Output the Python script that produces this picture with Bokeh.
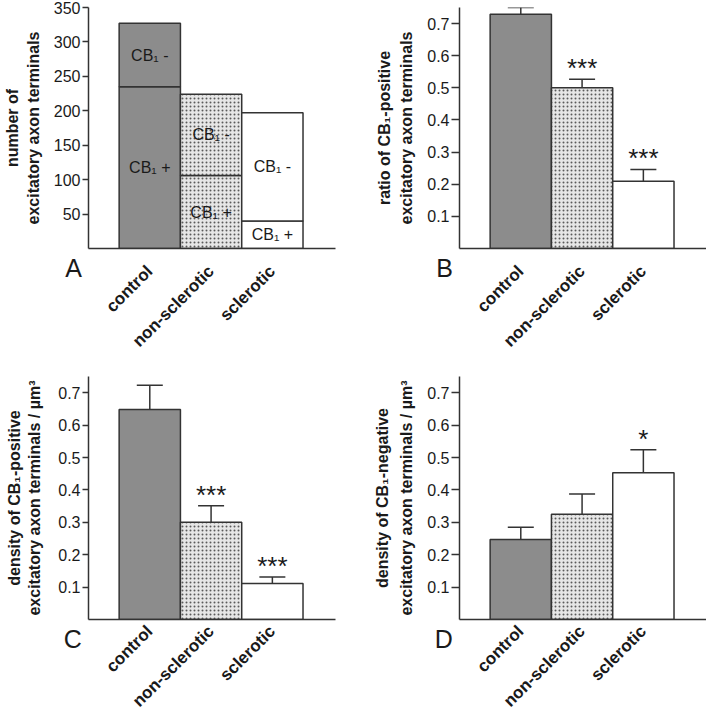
import math
from bokeh.plotting import figure
from bokeh.models import (ColumnDataSource, Range1d, FixedTicker, LinearAxis,
                          Whisker, TeeHead)
from bokeh.layouts import gridplot
from bokeh.core.properties import value
from bokeh.embed import file_html
from bokeh.resources import INLINE

# ---------------- data ----------------
categories = ["control", "non-sclerotic", "sclerotic"]

# Panel A: number of excitatory axon terminals (stacked)
a_cb1_positive = [235, 106, 40]
a_cb1_negative = [92, 118, 157]
a_ticks = [50, 100, 150, 200, 250, 300, 350]

# Panel B: ratio of CB1-positive excitatory axon terminals
b_mean = [0.729, 0.500, 0.209]
b_sem = [0.021, 0.027, 0.037]
b_sig = ["", "***", "***"]

# Panel C: density of CB1-positive excitatory axon terminals / um3
c_mean = [0.648, 0.300, 0.111]
c_sem = [0.075, 0.051, 0.020]
c_sig = ["", "***", "***"]

# Panel D: density of CB1-negative excitatory axon terminals / um3
d_mean = [0.247, 0.325, 0.453]
d_sem = [0.038, 0.062, 0.071]
d_sig = ["", "", "*"]

ratio_ticks = [0.1, 0.2, 0.3, 0.4, 0.5, 0.6, 0.7]
panel_letters = ["A", "B", "C", "D"]

# ---------------- style ----------------
bar_colors = ["#8c8c8c", "#e6e6e6", "#ffffff"]
bar_hatch = [" ", "dot", " "]
FONT = "Liberation Sans"
INK = "#333333"
TXT = "#1a1a1a"
xs = [i + 1 for i in range(len(categories))]


def make_panel(width, height, left, right, top, bottom, x_end, y_end, y_ticks,
               tick_out, title1, title2, std_inner, std_outer,
               letter, letter_standoff, cat_standoff):
    p = figure(width=width, height=height,
               x_range=Range1d(0, x_end), y_range=Range1d(0, y_end),
               output_backend="svg", toolbar_location=None,
               min_border_left=left, min_border_right=right,
               min_border_top=top, min_border_bottom=bottom)
    p.xgrid.visible = False
    p.ygrid.visible = False
    p.outline_line_color = None
    p.background_fill_color = "white"
    p.border_fill_color = "white"

    ya = p.yaxis[0]
    ya.ticker = FixedTicker(ticks=y_ticks)
    ya.minor_tick_line_color = None
    ya.major_tick_out = tick_out
    ya.major_tick_in = 0
    ya.major_label_standoff = 2
    ya.major_label_text_font = FONT
    ya.major_label_text_font_size = "16px"
    ya.major_label_text_color = TXT
    ya.axis_line_color = INK
    ya.axis_line_width = 1.5
    ya.major_tick_line_color = INK
    ya.major_tick_line_width = 1.5
    ya.axis_label = title2
    ya.axis_label_text_font = FONT
    ya.axis_label_text_font_style = "bold"
    ya.axis_label_text_font_size = "16px"
    ya.axis_label_text_color = TXT
    ya.axis_label_standoff = std_inner

    outer = LinearAxis(ticker=FixedTicker(ticks=[]), axis_label=title1,
                       axis_line_color=None, major_tick_line_color=None,
                       minor_tick_line_color=None, major_tick_out=0,
                       major_tick_in=0, major_label_standoff=0,
                       axis_label_standoff=std_outer,
                       axis_label_text_font=FONT,
                       axis_label_text_font_style="bold",
                       axis_label_text_font_size="16px",
                       axis_label_text_color=TXT)
    p.add_layout(outer, "left")

    # category axis (labels only; the axis line is drawn by the letter axis)
    xa = p.xaxis[0]
    xa.ticker = FixedTicker(ticks=xs)
    xa.major_label_overrides = {x: c for x, c in zip(xs, categories)}
    xa.major_label_orientation = math.pi / 4
    xa.major_tick_out = 0
    xa.major_tick_in = 0
    xa.minor_tick_line_color = None
    xa.major_label_standoff = cat_standoff
    xa.major_label_text_font = FONT
    xa.major_label_text_font_style = "bold"
    xa.major_label_text_font_size = "17px"
    xa.major_label_text_color = TXT
    xa.axis_line_color = None

    # panel letter axis: sits right under the frame and carries the axis line
    p.extra_x_ranges = {"letter": Range1d(0, 1000)}
    la = LinearAxis(x_range_name="letter", ticker=FixedTicker(ticks=[1]),
                    major_label_overrides={1: letter + " "},
                    major_label_orientation=1e-4,
                    major_tick_out=0, major_tick_in=0,
                    major_tick_line_color=None, minor_tick_line_color=None,
                    major_label_standoff=letter_standoff,
                    major_label_text_font=FONT,
                    major_label_text_font_size="25px",
                    major_label_text_color=TXT,
                    axis_line_color=INK, axis_line_width=1.5)
    p.below = [la] + list(p.below)
    return p


def add_bars(p, mean, sem, sig):
    src = ColumnDataSource(dict(
        x=xs, top=mean, upper=[m + s for m, s in zip(mean, sem)],
        color=bar_colors, hatch=bar_hatch, sig=sig))
    p.vbar(x="x", top="top", bottom=0, width=1.0, source=src,
           fill_color="color", hatch_pattern="hatch", hatch_color="#5a5a5a",
           hatch_scale=4, hatch_weight=1.0,
           line_color=INK, line_width=1.5)
    w = Whisker(source=src, base="x", upper="upper", lower="top",
                line_color=INK, line_width=1.5, lower_head=None,
                upper_head=TeeHead(size=26, line_color=INK, line_width=1.5))
    p.add_layout(w)
    p.text(x="x", y="upper", text="sig", source=src, text_align="center",
           text_baseline="alphabetic", text_font=value(FONT),
           text_font_size="26px", text_color=TXT, y_offset=-11)


# ---------------- Panel A ----------------
pA = make_panel(353, 360, 88, 18, 7, 110, 4.03, 350, a_ticks, 6,
                "number of", "excitatory axon terminals", 9, 1,
                panel_letters[0], 19, -30)
a_total = [pos + neg for pos, neg in zip(a_cb1_positive, a_cb1_negative)]
srcA = ColumnDataSource(dict(
    x=xs, pos=a_cb1_positive, total=a_total, color=bar_colors, hatch=bar_hatch,
    mid_pos=[v / 2 for v in a_cb1_positive],
    mid_neg=[(p_ + t) / 2 for p_, t in zip(a_cb1_positive, a_total)],
    lab_pos=["CB\u2081 +"] * 3, lab_neg=["CB\u2081 -"] * 3))
pA.vbar(x="x", bottom=0, top="pos", width=1.0, source=srcA,
        fill_color="color", hatch_pattern="hatch", hatch_color="#5a5a5a",
        hatch_scale=4, hatch_weight=1.0, line_color=INK, line_width=1.5)
pA.vbar(x="x", bottom="pos", top="total", width=1.0, source=srcA,
        fill_color="color", hatch_pattern="hatch", hatch_color="#5a5a5a",
        hatch_scale=4, hatch_weight=1.0, line_color=INK, line_width=1.5)
pA.text(x="x", y="mid_pos", text="lab_pos", source=srcA, text_align="center",
        text_baseline="middle", text_font=value(FONT), text_font_size="16px",
        text_color=TXT)
pA.text(x="x", y="mid_neg", text="lab_neg", source=srcA, text_align="center",
        text_baseline="middle", text_font=value(FONT), text_font_size="16px",
        text_color=TXT)

# ---------------- Panel B ----------------
pB = make_panel(353, 360, 106, 0, 6, 110, 4.03, 0.75, ratio_ticks, 8,
                "ratio of CB\u2081-positive", "excitatory axon terminals", 9, 3,
                panel_letters[1], 19, -30)
add_bars(pB, b_mean, b_sem, b_sig)

# ---------------- Panel C ----------------
pC = make_panel(353, 360, 88, 18, 16, 100, 4.03, 0.75, ratio_ticks, 6,
                "density of CB\u2081-positive",
                "excitatory axon terminals / \u00b5m\u00b3", 12, 1,
                panel_letters[2], 19, -41)
add_bars(pC, c_mean, c_sem, c_sig)

# ---------------- Panel D ----------------
pD = make_panel(353, 360, 106, 0, 16, 100, 4.03, 0.75, ratio_ticks, 8,
                "density of CB\u2081-negative",
                "excitatory axon terminals / \u00b5m\u00b3", 9, 5,
                panel_letters[3], 19, -41)
add_bars(pD, d_mean, d_sem, d_sig)

grid = gridplot([[pA, pB], [pC, pD]], toolbar_location=None)
open("out.html", "w").write(file_html(grid, INLINE))
